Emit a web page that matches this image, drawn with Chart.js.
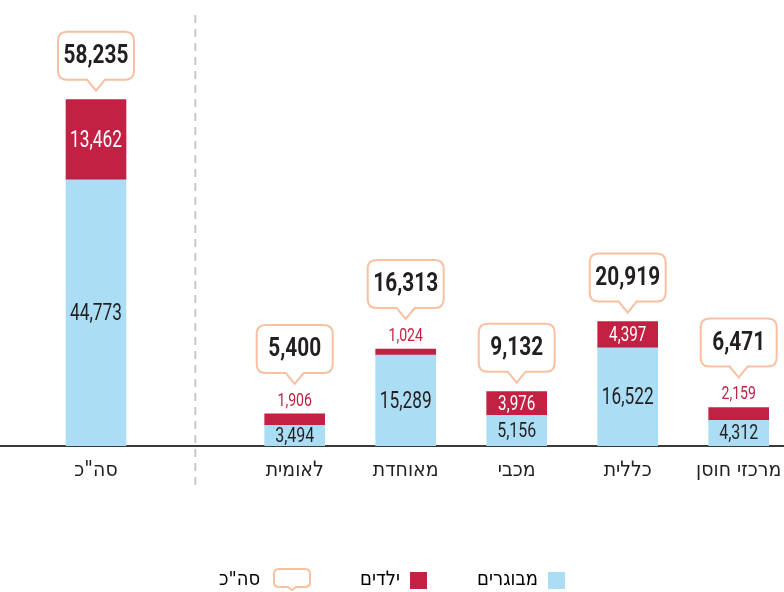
<!DOCTYPE html>
<html>
<head>
<meta charset="utf-8">
<script src="https://cdn.jsdelivr.net/npm/chart.js@4.4.0/dist/chart.umd.min.js"></script>
<style>
html, body { margin: 0; padding: 0; background: #fff; overflow: hidden; }
canvas { display: block; }
</style>
</head>
<body>
<canvas id="myChart" width="784" height="600"></canvas>
<script>
var categories = ['סה"כ', 'לאומית', 'מאוחדת', 'מכבי', 'כללית', 'מרכזי חוסן'];
var adults = [44773, 3494, 15289, 5156, 16522, 4312];
var children = [13462, 1906, 1024, 3976, 4397, 2159];
var totals = [58235, 5400, 16313, 9132, 20919, 6471];
var seriesNames = ['מבוגרים', 'ילדים', 'סה"כ'];

var BLUE = '#abddf4', RED = '#c22143', PEACH = '#f8c0a0', INK = '#231f20';
var FONT = "'DejaVu Sans Condensed', 'DejaVu Sans', sans-serif";
var NUMFONT = "Roboto, 'Liberation Sans', sans-serif";

// the total bar stands apart from the others on the x axis
var gapAfterTotal = 0.79;
var slots = categories.map(function (c, i) { return i === 0 ? 0 : i + gapAfterTotal; });
var xMin = -96 / 111, xMax = (784 - 96) / 111;

function fmt(v) { return v.toLocaleString('en-US'); }

// condensed number text
function numText(ctx, text, x, y, size, bold, color, sx) {
    ctx.save();
    ctx.translate(x, y);
    ctx.scale(sx, 1);
    ctx.fillStyle = color;
    ctx.font = (bold ? 'bold ' : '') + size + 'px ' + NUMFONT;
    ctx.textAlign = 'center';
    ctx.textBaseline = 'middle';
    ctx.fillText(text, 0, 0);
    ctx.restore();
}

// callout with a pointer: tip at (cx, tipY)
function callout(ctx, cx, tipY, w, h, pw, ph, r) {
    var bottom = tipY - ph, top = bottom - h, left = cx - w / 2, right = cx + w / 2;
    ctx.beginPath();
    ctx.moveTo(left + r, top);
    ctx.lineTo(right - r, top);
    ctx.quadraticCurveTo(right, top, right, top + r);
    ctx.lineTo(right, bottom - r);
    ctx.quadraticCurveTo(right, bottom, right - r, bottom);
    ctx.lineTo(cx + pw / 2, bottom);
    ctx.lineTo(cx, tipY);
    ctx.lineTo(cx - pw / 2, bottom);
    ctx.lineTo(left + r, bottom);
    ctx.quadraticCurveTo(left, bottom, left, bottom - r);
    ctx.lineTo(left, top + r);
    ctx.quadraticCurveTo(left, top, left + r, top);
    ctx.closePath();
    return top + h / 2;
}

function squareIcon(color) {
    var c = document.createElement('canvas');
    c.width = 17; c.height = 17;
    var g = c.getContext('2d');
    g.fillStyle = color;
    g.fillRect(0, 0, 17, 17);
    return c;
}
function calloutIcon() {
    // 38px wide box, right edge lined up with the 17px legend box
    var c = document.createElement('canvas');
    c.width = 59; c.height = 24;
    var g = c.getContext('2d');
    g.strokeStyle = PEACH; g.lineWidth = 2; g.fillStyle = '#fff';
    callout(g, 20, 22, 36, 18, 8, 3, 5);
    g.fill(); g.stroke();
    return c;
}
var icons = [squareIcon(BLUE), squareIcon(RED), calloutIcon()];
var legendText = [seriesNames[0], seriesNames[1], '    ' + seriesNames[2]];

var labelsPlugin = {
    id: 'barLabels',
    beforeDatasetsDraw: function (chart) {
        var ctx = chart.ctx, x = chart.scales.x;
        var px = x.getPixelForValue((slots[0] + slots[1]) / 2);
        ctx.save();
        ctx.strokeStyle = '#c9c9c9';
        ctx.lineWidth = 2;
        ctx.setLineDash([8, 6]);
        ctx.beginPath();
        ctx.moveTo(px, 15);
        ctx.lineTo(px, 488);
        ctx.stroke();
        ctx.restore();
    },
    afterDatasetsDraw: function (chart) {
        var ctx = chart.ctx;
        var m0 = chart.getDatasetMeta(0), m1 = chart.getDatasetMeta(1);
        categories.forEach(function (c, i) {
            var a = m0.data[i], k = m1.data[i];
            // adults
            var hA = a.base - a.y;
            if (hA > 40) numText(ctx, fmt(adults[i]), a.x, (a.y + a.base) / 2 + 1, 24, false, INK, 0.72);
            else numText(ctx, fmt(adults[i]), a.x, (a.y + a.base) / 2 + 1, 21, false, INK, 0.76);
            // children
            var hK = k.base - k.y, tip;
            if (hK >= 20) {
                if (hK > 40) numText(ctx, fmt(children[i]), k.x, (k.y + k.base) / 2 + 1, 24, false, '#fff', 0.72);
                else numText(ctx, fmt(children[i]), k.x, (k.y + k.base) / 2 + 1, 20, false, '#fff', 0.76);
                tip = k.y - 9;
            } else {
                var ly = k.y - 13;
                numText(ctx, fmt(children[i]), k.x, ly, 19, false, RED, 0.74);
                tip = ly - 17;
            }
            // total callout
            ctx.save();
            ctx.fillStyle = '#fff';
            ctx.strokeStyle = PEACH;
            ctx.lineWidth = 2;
            var cy = callout(ctx, k.x, tip, 76, 48, 18, 11, 9);
            ctx.fill();
            ctx.stroke();
            ctx.restore();
            numText(ctx, fmt(totals[i]), k.x, cy + 1, 26, true, INK, 0.8);
        });
    }
};

var ctx = document.getElementById('myChart');
var myChart = new Chart(ctx, {
    type: 'bar',
    data: {
        datasets: [{
            label: seriesNames[0],
            backgroundColor: BLUE,
            data: adults.map(function (v, i) { return { x: slots[i], y: v }; })
        }, {
            label: seriesNames[1],
            backgroundColor: RED,
            data: children.map(function (v, i) { return { x: slots[i], y: v }; })
        }]
    },
    options: {
        responsive: false,
        animation: false,
        events: [],
        layout: { padding: 0, autoPadding: false },
        datasets: { bar: { barThickness: 60 } },
        scales: {
            x: {
                type: 'linear',
                stacked: true,
                offset: false,
                min: xMin,
                max: xMax,
                grid: { display: false, drawTicks: false, offset: false },
                border: { display: true, color: '#3a3a3a', width: 2 },
                afterBuildTicks: function (s) {
                    s.ticks = slots.map(function (v) { return { value: v }; });
                    s.min = xMin;
                    s.max = xMax;
                },
                afterFit: function (s) { s.height = 74; },
                ticks: {
                    autoSkip: false,
                    maxRotation: 0,
                    padding: 0,
                    color: INK,
                    font: { family: FONT, size: 21, lineHeight: 2.3 },
                    callback: function (v, i) { return categories[i]; }
                }
            },
            y: {
                stacked: true,
                display: false,
                min: 0,
                max: 75000
            }
        },
        plugins: {
            tooltip: { enabled: false },
            legend: {
                position: 'bottom',
                rtl: true,
                textDirection: 'rtl',
                labels: {
                    usePointStyle: true,
                    pointStyleWidth: 17,
                    boxWidth: 17,
                    boxHeight: 17,
                    padding: 50,
                    color: INK,
                    font: { family: FONT, size: 20 },
                    generateLabels: function () {
                        return seriesNames.map(function (n, i) {
                            return { text: legendText[i], pointStyle: icons[i], fillStyle: 'transparent', strokeStyle: 'transparent', lineWidth: 0, datasetIndex: i };
                        });
                    }
                }
            }
        }
    },
    plugins: [labelsPlugin]
});
</script>
</body>
</html>
